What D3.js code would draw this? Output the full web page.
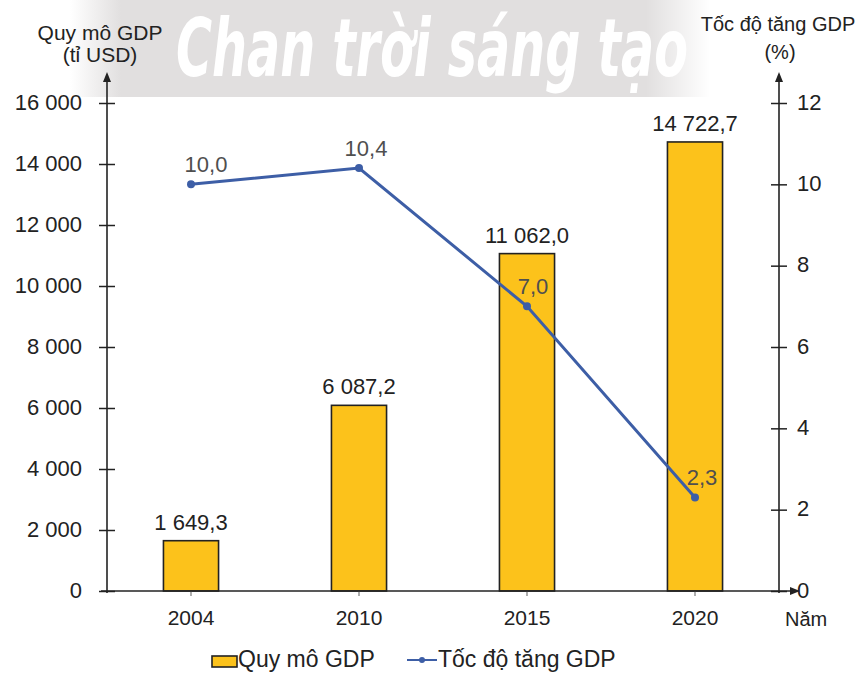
<!DOCTYPE html>
<html>
<head>
<meta charset="utf-8">
<script src="https://cdn.jsdelivr.net/npm/d3@7/dist/d3.min.js"></script>
<style>
  html, body { margin: 0; padding: 0; background: #fff; }
  svg { display: block; font-family: "Liberation Sans", Arial, sans-serif; }
</style>
</head>
<body>
<svg id="chart" width="864" height="675"></svg>
<script>
// ---- data ----
const years = ["2004", "2010", "2015", "2020"];
const gdpValues = [1649.3, 6087.2, 11062.0, 14722.7];      // tỉ USD
const growthValues = [10.0, 10.4, 7.0, 2.3];               // %
const leftTicks = [0, 2000, 4000, 6000, 8000, 10000, 12000, 14000, 16000];
const rightTicks = [0, 2, 4, 6, 8, 10, 12];
const leftTitle = ["Quy mô GDP", "(tỉ USD)"];
const rightTitle = ["Tốc độ tăng GDP", "(%)"];
const xAxisTitle = "Năm";
const legendLabels = ["Quy mô GDP", "Tốc độ tăng GDP"];
const watermark = "Chan trời sáng tạo";

// ---- layout ----
const svg = d3.select("#chart");
const X0 = 107, X1 = 779, Y0 = 591, YTOP = 103;
const barColor = "#fcc21b", lineColor = "#3d5ea6", ink = "#222";

const vn = d3.formatLocale({decimal: ",", thousands: " ", grouping: [3], currency: ["", ""]});
const fInt = vn.format(",d");
const f1 = vn.format(",.1f");

// watermark band
const defs = svg.append("defs");
const grad = defs.append("linearGradient").attr("id", "band").attr("x1", "0").attr("x2", "1").attr("y1", "0").attr("y2", "0");
grad.append("stop").attr("offset", "0").attr("stop-color", "#e1dfdf").attr("stop-opacity", 0);
grad.append("stop").attr("offset", "0.08").attr("stop-color", "#e1dfdf").attr("stop-opacity", 1);
grad.append("stop").attr("offset", "0.9").attr("stop-color", "#e1dfdf").attr("stop-opacity", 1);
grad.append("stop").attr("offset", "1").attr("stop-color", "#e1dfdf").attr("stop-opacity", 0);
svg.append("rect").attr("x", 70).attr("y", 0).attr("width", 640).attr("height", 97).attr("fill", "url(#band)");
const wm = svg.append("text").attr("x", 0).attr("y", 0)
  .attr("font-family", "'DejaVu Sans Condensed', 'Liberation Sans Narrow', sans-serif")
  .attr("font-style", "italic").attr("font-weight", "bold")
  .attr("font-size", 80).attr("fill", "#fff")
  .text(watermark);
const wmW = wm.node().getComputedTextLength() || 512;
wm.attr("transform", `translate(176,76) scale(${512 / wmW},1)`);

// scales
const x = d3.scaleBand().domain(years).range([X0, X1]).paddingInner(0.672).paddingOuter(0.336);
const yL = d3.scaleLinear().domain([0, 16000]).range([Y0, YTOP]);
const yR = d3.scaleLinear().domain([0, 12]).range([Y0, YTOP]);

// bars
svg.append("g").selectAll("rect").data(gdpValues).join("rect")
  .attr("x", (d, i) => x(years[i]))
  .attr("y", d => yL(d))
  .attr("width", x.bandwidth())
  .attr("height", d => Y0 - yL(d))
  .attr("fill", barColor).attr("stroke", ink).attr("stroke-width", 1.6);

// bar labels
svg.append("g").selectAll("text").data(gdpValues).join("text")
  .attr("x", (d, i) => x(years[i]) + x.bandwidth() / 2)
  .attr("y", d => yL(d) - 11)
  .attr("text-anchor", "middle").attr("font-size", 22).attr("fill", ink)
  .text(d => f1(d));

// left axis
const gL = svg.append("g").attr("transform", `translate(${X0},0)`)
  .call(d3.axisLeft(yL).tickValues(leftTicks).tickFormat(fInt).tickSizeInner(8).tickSizeOuter(0).tickPadding(17));
gL.select(".domain").remove();
gL.selectAll(".tick line").attr("x1", -8).attr("x2", 8).attr("stroke", ink).attr("stroke-width", 1.5);
gL.selectAll(".tick text").attr("font-size", 22).attr("fill", ink).attr("font-family", "Liberation Sans, Arial, sans-serif").attr("dy", "0.28em");

// right axis
const gR = svg.append("g").attr("transform", `translate(${X1},0)`)
  .call(d3.axisRight(yR).tickValues(rightTicks).tickSizeInner(8).tickSizeOuter(0).tickPadding(10));
gR.select(".domain").remove();
gR.selectAll(".tick line").attr("x1", -8).attr("x2", 8).attr("stroke", ink).attr("stroke-width", 1.5);
gR.selectAll(".tick text").attr("font-size", 22).attr("fill", ink).attr("font-family", "Liberation Sans, Arial, sans-serif").attr("dy", "0.28em");

// x axis
const gX = svg.append("g").attr("transform", `translate(0,${Y0})`)
  .call(d3.axisBottom(x).tickSizeInner(5).tickSizeOuter(0).tickPadding(14));
gX.select(".domain").remove();
gX.selectAll(".tick line").attr("stroke", "#777").attr("stroke-width", 1.2);
gX.selectAll(".tick text").attr("font-size", 21).attr("fill", ink).attr("font-family", "Liberation Sans, Arial, sans-serif");

// axis lines with arrows
const arrow = (x1, y1, x2, y2) => {
  svg.append("line").attr("x1", x1).attr("y1", y1).attr("x2", x2).attr("y2", y2)
    .attr("stroke", ink).attr("stroke-width", 1.6);
};
arrow(X0, Y0 + 2, X0, 80);
arrow(X1, Y0 + 2, X1, 80);
arrow(X0 - 6, Y0, 792, Y0);
svg.append("path").attr("d", `M${X0 - 4},82 L${X0},72 L${X0 + 4},82 Z`).attr("fill", ink);
svg.append("path").attr("d", `M${X1 - 4},82 L${X1},72 L${X1 + 4},82 Z`).attr("fill", ink);
svg.append("path").attr("d", `M790,${Y0 - 4} L800,${Y0} L790,${Y0 + 4} Z`).attr("fill", ink);

// axis titles
svg.append("text").attr("x", 100).attr("y", 40).attr("text-anchor", "middle").attr("font-size", 21).attr("fill", ink).text(leftTitle[0]);
svg.append("text").attr("x", 100).attr("y", 62).attr("text-anchor", "middle").attr("font-size", 21).attr("fill", ink).text(leftTitle[1]);
svg.append("text").attr("x", 778).attr("y", 31).attr("text-anchor", "middle").attr("font-size", 20).attr("fill", ink).text(rightTitle[0]);
svg.append("text").attr("x", 780).attr("y", 59).attr("text-anchor", "middle").attr("font-size", 20).attr("fill", ink).text(rightTitle[1]);
svg.append("text").attr("x", 785).attr("y", 626).attr("font-size", 20).attr("fill", ink).text(xAxisTitle);

// growth line
const cx = (d, i) => x(years[i]) + x.bandwidth() / 2;
const line = d3.line().x(cx).y(d => yR(d));
svg.append("path").datum(growthValues).attr("d", line)
  .attr("fill", "none").attr("stroke", lineColor).attr("stroke-width", 3);
svg.append("g").selectAll("circle").data(growthValues).join("circle")
  .attr("cx", cx).attr("cy", d => yR(d)).attr("r", 4).attr("fill", lineColor);

// line labels
const lineLabelDx = [15, 7, 6, 7];
svg.append("g").selectAll("text").data(growthValues).join("text")
  .attr("x", (d, i) => cx(d, i) + lineLabelDx[i])
  .attr("y", d => yR(d) - 12)
  .attr("text-anchor", "middle").attr("font-size", 22).attr("fill", "#4f4f4f")
  .text(d => f1(d));

// legend
const lg = svg.append("g");
lg.append("rect").attr("x", 212).attr("y", 656).attr("width", 25).attr("height", 11)
  .attr("fill", barColor).attr("stroke", ink).attr("stroke-width", 1.6);
lg.append("text").attr("x", 238).attr("y", 667).attr("font-size", 23).attr("fill", ink).text(legendLabels[0]);
lg.append("line").attr("x1", 407).attr("x2", 437).attr("y1", 660).attr("y2", 660)
  .attr("stroke", lineColor).attr("stroke-width", 2);
lg.append("circle").attr("cx", 422).attr("cy", 660).attr("r", 3).attr("fill", lineColor);
lg.append("text").attr("x", 438).attr("y", 667).attr("font-size", 23).attr("fill", ink).text(legendLabels[1]);
</script>
</body>
</html>
